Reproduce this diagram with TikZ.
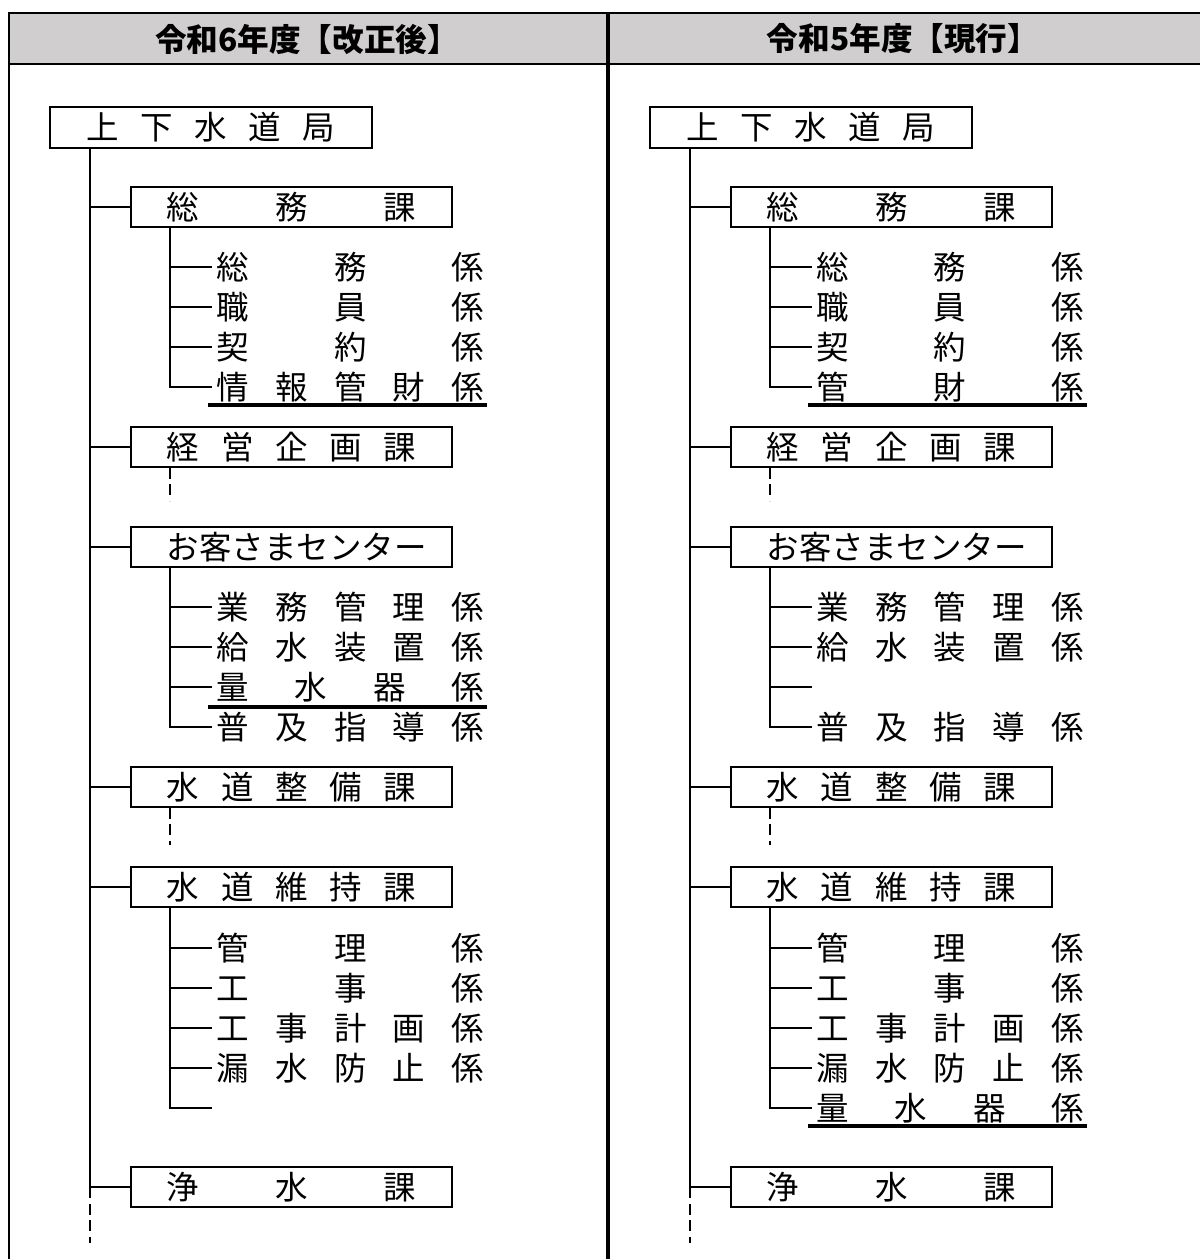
\documentclass[tikz,border=0pt]{standalone}
\usepackage{fontspec}
\setmainfont{Noto Sans CJK JP}
\usepackage{xcolor}
\definecolor{headgray}{HTML}{D0CECE}
\newcommand{\bodyfont}{\fontsize{18.5pt}{21pt}\selectfont}
\newcommand{\headfont}{\fontsize{18pt}{21pt}\selectfont\bfseries}
\newcommand{\kaname}[1]{\hbox to 4.98cm{#1}}
\newcommand{\kakari}[1]{\hbox to 5.34cm{#1}}
\tikzset{
  every picture/.style={line join=miter},
  bukyoku/.style={draw, line width=1.1pt, minimum width=6.44cm, minimum height=0.82cm, inner sep=0pt, anchor=west, font=\bodyfont},
  ka/.style={bukyoku, minimum width=6.42cm, minimum height=0.8cm},
  kakari/.style={inner sep=0pt, anchor=west, font=\bodyfont},
  edaline/.style={line width=1.1pt},
  tensen/.style={line width=1pt, dash pattern=on 0.22cm off 0.11cm},
  kaisei/.style={line width=1.8pt},
  midashi/.style={inner sep=0pt, font=\headfont},
}

\begin{document}
\begin{tikzpicture}[x=0.02cm, y=-0.02cm]
\useasboundingbox (0,0) rectangle (1200,1259);
% frame and headings
\fill[headgray] (8,13) rectangle (1200,63);
\draw[line width=0.8pt] (8,13) -- (1200,13);
\draw[line width=1.6pt] (8,64) -- (1200,64);
\draw[line width=1.1pt] (9,13) -- (9,1259);
\draw[line width=2.2pt] (608,13) -- (608,1259);
\node[midashi] (headL) at (307,39) {令和6年度【改正後】};
\node[midashi] (headR) at (903,39) {令和5年度【現行】};

% after revision
\node[bukyoku] (kyokuL) at (49,127.5) {\kaname{上\hfil 下\hfil 水\hfil 道\hfil 局}};
\node[ka] (somuL) at (130,207) {\kaname{総\hfil 務\hfil 課}};
\node[ka] (keieiL) at (130,447) {\kaname{経\hfil 営\hfil 企\hfil 画\hfil 課}};
\node[ka] (okyakuL) at (130,547) {\kaname{\hfil お客さまセンター\hfil}};
\node[ka] (seibiL) at (130,787) {\kaname{水\hfil 道\hfil 整\hfil 備\hfil 課}};
\node[ka] (ijiL) at (130,887) {\kaname{水\hfil 道\hfil 維\hfil 持\hfil 課}};
\node[ka] (jousuiL) at (130,1187) {\kaname{浄\hfil 水\hfil 課}};
\node[kakari] (somu1L) at (216.5,267) {\kakari{総\hfil 務\hfil 係}};
\node[kakari] (somu2L) at (216.5,307) {\kakari{職\hfil 員\hfil 係}};
\node[kakari] (somu3L) at (216.5,347) {\kakari{契\hfil 約\hfil 係}};
\node[kakari] (somu4L) at (216.5,387) {\kakari{情\hfil 報\hfil 管\hfil 財\hfil 係}};
\node[kakari] (okyaku1L) at (216.5,607) {\kakari{業\hfil 務\hfil 管\hfil 理\hfil 係}};
\node[kakari] (okyaku2L) at (216.5,647) {\kakari{給\hfil 水\hfil 装\hfil 置\hfil 係}};
\node[kakari] (okyaku3L) at (216.5,687) {\kakari{量\hfil 水\hfil 器\hfil 係}};
\node[kakari] (okyaku4L) at (216.5,727) {\kakari{普\hfil 及\hfil 指\hfil 導\hfil 係}};
\node[kakari] (iji1L) at (216.5,948) {\kakari{管\hfil 理\hfil 係}};
\node[kakari] (iji2L) at (216.5,988) {\kakari{工\hfil 事\hfil 係}};
\node[kakari] (iji3L) at (216.5,1028) {\kakari{工\hfil 事\hfil 計\hfil 画\hfil 係}};
\node[kakari] (iji4L) at (216.5,1068) {\kakari{漏\hfil 水\hfil 防\hfil 止\hfil 係}};
\coordinate (iji5L) at (212,1108);

\coordinate (topL) at ([xshift=0.82cm]kyokuL.south west);
\foreach \n in {somuL,keieiL,okyakuL,seibiL,ijiL,jousuiL}
  \draw[edaline] (topL) |- (\n.west);
\draw[tensen] (jousuiL.west -| topL) -- ++(0,56);
\coordinate (sub1L) at ([xshift=0.8cm]somuL.south west);
\foreach \n in {somu1L,somu2L,somu3L,somu4L}
  \draw[edaline] (sub1L) |- ([xshift=-0.09cm]\n.west);
\draw[tensen] ([xshift=0.8cm]keieiL.south west) -- ++(0,33);
\coordinate (sub2L) at ([xshift=0.8cm]okyakuL.south west);
\foreach \n in {okyaku1L,okyaku2L,okyaku3L,okyaku4L}
  \draw[edaline] (sub2L) |- ([xshift=-0.09cm]\n.west);
\draw[tensen] ([xshift=0.8cm]seibiL.south west) -- ++(0,37);
\coordinate (sub3L) at ([xshift=0.8cm]ijiL.south west);
\foreach \n in {iji1L,iji2L,iji3L,iji4L}
  \draw[edaline] (sub3L) |- ([xshift=-0.09cm]\n.west);
\draw[edaline] (sub3L) |- (iji5L);
% changed sections
\draw[kaisei] ([xshift=-0.17cm,yshift=-0.36cm]somu4L.west) -- ([xshift=0.05cm,yshift=-0.36cm]somu4L.east);
\draw[kaisei] ([xshift=-0.17cm,yshift=-0.4cm]okyaku3L.west) -- ([xshift=0.05cm,yshift=-0.4cm]okyaku3L.east);

% current
\begin{scope}[xshift=12cm]
\node[bukyoku] (kyokuR) at (49,127.5) {\kaname{上\hfil 下\hfil 水\hfil 道\hfil 局}};
\node[ka] (somuR) at (130,207) {\kaname{総\hfil 務\hfil 課}};
\node[ka] (keieiR) at (130,447) {\kaname{経\hfil 営\hfil 企\hfil 画\hfil 課}};
\node[ka] (okyakuR) at (130,547) {\kaname{\hfil お客さまセンター\hfil}};
\node[ka] (seibiR) at (130,787) {\kaname{水\hfil 道\hfil 整\hfil 備\hfil 課}};
\node[ka] (ijiR) at (130,887) {\kaname{水\hfil 道\hfil 維\hfil 持\hfil 課}};
\node[ka] (jousuiR) at (130,1187) {\kaname{浄\hfil 水\hfil 課}};
\node[kakari] (somu1R) at (216.5,267) {\kakari{総\hfil 務\hfil 係}};
\node[kakari] (somu2R) at (216.5,307) {\kakari{職\hfil 員\hfil 係}};
\node[kakari] (somu3R) at (216.5,347) {\kakari{契\hfil 約\hfil 係}};
\node[kakari] (somu4R) at (216.5,387) {\kakari{管\hfil 財\hfil 係}};
\node[kakari] (okyaku1R) at (216.5,607) {\kakari{業\hfil 務\hfil 管\hfil 理\hfil 係}};
\node[kakari] (okyaku2R) at (216.5,647) {\kakari{給\hfil 水\hfil 装\hfil 置\hfil 係}};
\coordinate (okyaku3R) at (212,687);
\node[kakari] (okyaku4R) at (216.5,727) {\kakari{普\hfil 及\hfil 指\hfil 導\hfil 係}};
\node[kakari] (iji1R) at (216.5,948) {\kakari{管\hfil 理\hfil 係}};
\node[kakari] (iji2R) at (216.5,988) {\kakari{工\hfil 事\hfil 係}};
\node[kakari] (iji3R) at (216.5,1028) {\kakari{工\hfil 事\hfil 計\hfil 画\hfil 係}};
\node[kakari] (iji4R) at (216.5,1068) {\kakari{漏\hfil 水\hfil 防\hfil 止\hfil 係}};
\node[kakari] (iji5R) at (216.5,1108) {\kakari{量\hfil 水\hfil 器\hfil 係}};
\end{scope}

\coordinate (topR) at ([xshift=0.82cm]kyokuR.south west);
\foreach \n in {somuR,keieiR,okyakuR,seibiR,ijiR,jousuiR}
  \draw[edaline] (topR) |- (\n.west);
\draw[tensen] (jousuiR.west -| topR) -- ++(0,56);
\coordinate (sub1R) at ([xshift=0.8cm]somuR.south west);
\foreach \n in {somu1R,somu2R,somu3R,somu4R}
  \draw[edaline] (sub1R) |- ([xshift=-0.09cm]\n.west);
\draw[tensen] ([xshift=0.8cm]keieiR.south west) -- ++(0,33);
\coordinate (sub2R) at ([xshift=0.8cm]okyakuR.south west);
\foreach \n in {okyaku1R,okyaku2R,okyaku4R}
  \draw[edaline] (sub2R) |- ([xshift=-0.09cm]\n.west);
\draw[edaline] (sub2R) |- (okyaku3R);
\draw[tensen] ([xshift=0.8cm]seibiR.south west) -- ++(0,37);
\coordinate (sub3R) at ([xshift=0.8cm]ijiR.south west);
\foreach \n in {iji1R,iji2R,iji3R,iji4R,iji5R}
  \draw[edaline] (sub3R) |- ([xshift=-0.09cm]\n.west);
\draw[kaisei] ([xshift=-0.17cm,yshift=-0.36cm]somu4R.west) -- ([xshift=0.05cm,yshift=-0.36cm]somu4R.east);
\draw[kaisei] ([xshift=-0.17cm,yshift=-0.36cm]iji5R.west) -- ([xshift=0.05cm,yshift=-0.36cm]iji5R.east);
\end{tikzpicture}
\end{document}
